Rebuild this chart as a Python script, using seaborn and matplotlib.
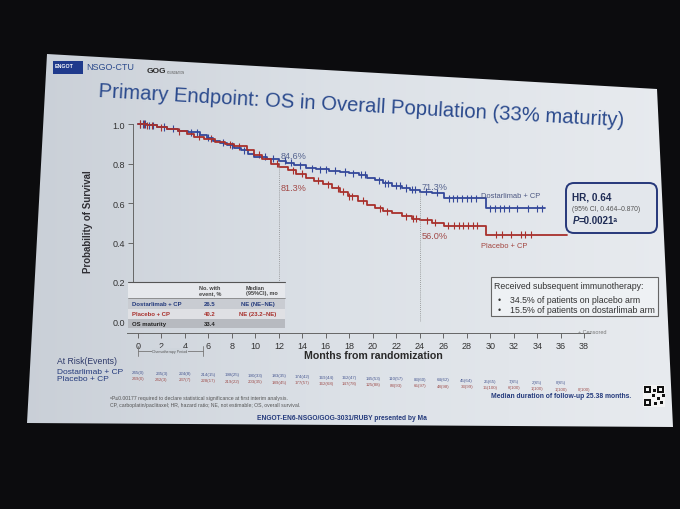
import numpy as np
import pandas as pd
import matplotlib
matplotlib.use("Agg")
import matplotlib.pyplot as plt
import seaborn as sns
from matplotlib.patches import Polygon, Rectangle, FancyBboxPatch
from matplotlib.colors import LinearSegmentedColormap
from matplotlib.transforms import blended_transform_factory

# Kaplan-Meier step points (months, probability of survival)
dost_t = [0, 0.8, 1.6, 2.5, 3.4, 4.3, 5.3, 5.9, 6.4, 7.0, 7.6, 8.2, 8.8, 9.4, 9.9, 11.0,
          12.0, 12.6, 13.3, 14.3, 15.2, 16.3, 17.2, 18.0, 18.8, 19.5, 20.2, 20.9, 21.6,
          22.5, 23.2, 24.0, 25.0, 26.1, 29.6, 34.7]
dost_s = [1.0, 0.993, 0.985, 0.976, 0.967, 0.957, 0.946, 0.93, 0.915, 0.905, 0.893, 0.88,
          0.867, 0.85, 0.835, 0.823, 0.813, 0.803, 0.79, 0.776, 0.77, 0.763, 0.757, 0.75,
          0.742, 0.728, 0.715, 0.70, 0.687, 0.676, 0.667, 0.658, 0.652, 0.625, 0.573, 0.573]
plac_t = [0, 0.8, 1.6, 2.5, 3.4, 4.2, 4.8, 5.6, 6.6, 7.4, 8.2, 9.3, 9.9, 10.6, 11.3, 12.0,
          12.8, 13.5, 14.3, 15.0, 15.8, 16.5, 17.2, 17.9, 18.7, 19.5, 20.2, 20.9, 21.6,
          22.5, 23.3, 24.0, 25.0, 26.1, 29.6, 36.5]
plac_s = [1.0, 0.993, 0.984, 0.974, 0.963, 0.95, 0.936, 0.925, 0.907, 0.898, 0.888, 0.87,
          0.845, 0.825, 0.80, 0.783, 0.765, 0.748, 0.728, 0.712, 0.695, 0.675, 0.656, 0.635,
          0.612, 0.59, 0.573, 0.558, 0.547, 0.532, 0.52, 0.513, 0.50, 0.485, 0.44, 0.44]

# censoring times
dost_cens = [0.2, 0.4, 0.6, 0.9, 1.3, 2.2, 3.0, 4.5, 5.0, 6.0, 7.2, 8.0, 9.0, 10.8, 11.5,
             12.5, 13.0, 13.8, 14.8, 15.5, 16.0, 16.8, 17.6, 18.3, 19.0, 19.3, 20.5, 21.0,
             21.3, 22.0, 22.3, 22.8, 23.3, 23.6, 24.5, 25.5, 26.5, 26.8, 27.2, 27.6, 28.0,
             28.4, 28.8, 30.0, 30.4, 30.8, 31.2, 31.6, 32.3, 33.2, 34.0, 34.4]
plac_cens = [0.2, 0.5, 0.8, 1.2, 2.0, 3.5, 5.2, 6.2, 7.8, 8.6, 10.3, 11.8, 13.2, 14.0, 15.3,
             16.2, 17.0, 17.5, 18.0, 18.2, 19.2, 20.6, 21.2, 22.8, 23.4, 23.7, 24.6, 25.3,
             26.4, 26.9, 27.3, 27.7, 28.1, 28.5, 28.9, 30.5, 31.0, 31.8, 32.6, 33.0, 33.5]

landmarks = [12, 24]
dost_pct = [84.6, 71.3]
plac_pct = [81.3, 56.0]

risk_months = list(range(0, 39, 2))
dost_risk = ["245(0)", "235(3)", "224(8)", "214(15)", "198(25)", "190(33)", "183(35)",
             "174(42)", "169(44)", "162(47)", "145(53)", "110(57)", "83(60)", "64(62)",
             "45(64)", "25(65)", "7(65)", "2(65)", "0(65)"]
plac_risk = ["249(0)", "242(3)", "237(7)", "228(17)", "219(22)", "203(35)", "189(45)",
             "177(57)", "162(68)", "147(78)", "125(88)", "88(93)", "65(97)", "48(98)",
             "33(99)", "15(100)", "6(100)", "1(100)", "1(100)", "0(100)"]

table_rows = ["Dostarlimab + CP", "Placebo + CP", "OS maturity"]
table_events = ["26.5", "40.2", "33.4"]
table_median = ["NE (NE–NE)", "NE (23.2–NE)", ""]

BLUE = "#34489a"
RED = "#a8302c"
NAVY = "#243a7c"

sns.set_style("ticks")
plt.rcParams["font.family"] = ["Liberation Sans", "DejaVu Sans"]

W, H = 680, 510
X0, PX = 138.0, 11.74    # pixel of month 0, pixels per month
Y0, PY = 322.5, 197.5    # pixel of survival 0, pixels per unit

fig = plt.figure(figsize=(6.8, 5.1), dpi=100, facecolor="#0c0c0e")

# slide background
bg = fig.add_axes([0, 0, 1, 1], zorder=0)
slide = Polygon([(47, 55), (657, 90), (673, 428), (27, 424)], closed=True,
                transform=bg.transData)
cmap = LinearSegmentedColormap.from_list("slide", ["#c8ced6", "#dce1e7", "#e8ebef"])
im = bg.imshow(np.tile(np.linspace(0, 1, 200), (20, 1)), cmap=cmap,
               extent=[0, W, H, 0], aspect="auto", interpolation="bilinear")
im.set_clip_path(slide)
bg.set_xlim(0, W)
bg.set_ylim(H, 0)
bg.axis("off")

# KM axes
left_px, right_px, top_px = 126.8, 590.0, 121.0
ax = fig.add_axes([left_px / W, 1 - Y0 / H, (right_px - left_px) / W, (Y0 - top_px) / H],
                  zorder=2)
ax.patch.set_visible(False)

km = pd.concat([
    pd.DataFrame({"month": dost_t, "surv": dost_s, "arm": "Dostarlimab + CP"}),
    pd.DataFrame({"month": plac_t, "surv": plac_s, "arm": "Placebo + CP"}),
])
pal = {"Dostarlimab + CP": BLUE, "Placebo + CP": RED}
sns.lineplot(data=km, x="month", y="surv", hue="arm", palette=pal, drawstyle="steps-post",
             estimator=None, linewidth=1.3, legend=False, ax=ax)


def step_at(t, s, x):
    idx = np.searchsorted(t, x, side="right") - 1
    return np.asarray(s)[idx]


cens = pd.concat([
    pd.DataFrame({"month": dost_cens, "surv": step_at(dost_t, dost_s, dost_cens),
                  "arm": "Dostarlimab + CP"}),
    pd.DataFrame({"month": plac_cens, "surv": step_at(plac_t, plac_s, plac_cens),
                  "arm": "Placebo + CP"}),
])
sns.scatterplot(data=cens, x="month", y="surv", hue="arm", palette=pal, marker="|",
                s=26, linewidth=0.8, legend=False, ax=ax)

# landmark lines + labels
ax.vlines(landmarks, 0, step_at(dost_t, dost_s, landmarks), colors="#888",
          linestyles=(0, (1, 1.5)), linewidth=0.6)
lab_y_dost = [0.84, 0.683]
lab_y_plac = [0.676, 0.434]
for m, pd_, pp, yd, yp in zip(landmarks, dost_pct, plac_pct, lab_y_dost, lab_y_plac):
    ax.text(m + 0.15, yd, f"{pd_:.1f}%", color="#56648f", fontsize=6.6, va="center")
    ax.text(m + 0.15, yp, f"{pp:.1f}%", color="#a24a48", fontsize=6.6, va="center")
ax.text(29.2, 0.637, "Dostarlimab + CP", color="#4c5782", fontsize=5.4, va="center")
ax.text(29.2, 0.387, "Placebo + CP", color="#a2443e", fontsize=5.4, va="center")

ax.set_xlim((left_px - X0) / PX, (right_px - X0) / PX)
ax.set_ylim(0, (Y0 - top_px) / PY)
ax.set_xticks(risk_months)
ax.set_yticks([0, 0.2, 0.4, 0.6, 0.8, 1.0])
ax.set_yticklabels(["0.0", "0.2", "0.4", "0.6", "0.8", "1.0"])
sns.despine(ax=ax)
ax.spines["left"].set_position(("data", -0.45))
ax.spines["left"].set_bounds(0, 1)
ax.spines["bottom"].set_position(("outward", 8.5))
for sp in ("left", "bottom"):
    ax.spines[sp].set_color("#666")
    ax.spines[sp].set_linewidth(0.7)
ax.tick_params(axis="both", length=3.5, width=0.7, color="#666", labelsize=6.5,
               labelcolor="#333", pad=2)
ax.set_xlabel("")
ax.set_ylabel("Probability of Survival", fontsize=7, fontweight="bold", color="#2f2f35")
ax.yaxis.set_label_coords((92.7 - left_px) / (right_px - left_px), 0.5)

# overlay in pixel coordinates
ov = fig.add_axes([0, 0, 1, 1], zorder=3)
ov.set_xlim(0, W)
ov.set_ylim(H, 0)
ov.axis("off")
ov.patch.set_visible(False)


def txt(x, y, s, size, color="#333", weight="normal", ha="left", va="center", **kw):
    return ov.text(x, y, s, fontsize=size, color=color, fontweight=weight, ha=ha, va=va, **kw)


# logos
ov.add_patch(Rectangle((52.7, 61.7), 30, 13.3, facecolor="#1f3a8c", edgecolor="none"))
txt(54.5, 66, "ENGOT", 3.8, "white", "bold")
txt(86, 68, "NSGO-CTU", 6.5, "#2c4a8c")
txt(147, 71.5, "GOG", 6, "#2a2a2a", "bold")
txt(166.7, 72.5, "FOUNDATION", 2, "#555")

# title
txt(98, 97, "Primary Endpoint: OS in Overall Population (33% maturity)", 14.6, "#2b4a8d",
    va="baseline", rotation=-3.2, rotation_mode="anchor")

# summary table
tx0, tx1 = 127.7, 285.0
row_edges = [283, 299, 309.5, 319.5, 329]
row_cols = ["#e6e8ec", "#c9ccd2", "#dfe0e4", "#b7bac0"]
for (ya, yb), c in zip(zip(row_edges[:-1], row_edges[1:]), row_cols):
    ov.add_patch(Rectangle((tx0, ya), tx1 - tx0, yb - ya, facecolor=c, edgecolor="none"))
ov.plot([tx0, tx1], [283, 283], color="#555", lw=0.8)
ov.plot([tx0, tx1], [299, 299], color="#777", lw=0.5)
txt(210, 291, "No. with\nevent, %", 4, "#444", "bold", ha="center", linespacing=1.1)
txt(246, 291, "Median\n(95%CI), mo", 4, "#444", "bold", linespacing=1.1)
row_text_cols = [NAVY, RED, "#222"]
for i, (name, ev, med) in enumerate(zip(table_rows, table_events, table_median)):
    yc = (row_edges[i + 1] + row_edges[i + 2]) / 2
    col = row_text_cols[i]
    txt(132, yc, name, 4.3, col, "bold")
    txt(210, yc, ev, 4.3, col, "bold", ha="center")
    if med:
        txt(258, yc, med, 4.3, col, "bold", ha="center")

# HR box
ov.add_patch(FancyBboxPatch((566, 184), 91, 50, boxstyle="round,pad=0,rounding_size=8",
                            facecolor="#e3e7ec", edgecolor="#26387a", linewidth=1.4))
txt(572.5, 198, "HR, 0.64", 7.2, "#1f2c55", "bold")
txt(572.5, 210, "(95% CI, 0.464–0.870)", 4.9, "#555")
txt(573, 221, "P", 7, "#1f2c55", "bold", style="italic")
txt(578.5, 221, "=0.0021ᵃ", 7, "#1f2c55", "bold")

# subsequent immunotherapy box
ov.add_patch(Rectangle((490.7, 278), 167.3, 38.7, facecolor="#eef1f4", edgecolor="#666",
                       linewidth=0.8))
txt(494.5, 287, "Received subsequent immunotherapy:", 6.3, "#333")
txt(498, 300.5, "•", 6.3, "#333")
txt(510, 300.5, "34.5% of patients on placebo arm", 6.3, "#333")
txt(498, 310.5, "•", 6.3, "#333")
txt(510, 310.5, "15.5% of patients on dostarlimab arm", 6.3, "#333")

txt(578, 333, "+ Censored", 4, "#777")

# chemotherapy period bracket
ov.plot([137.7, 137.7], [346.5, 357], color="#777", lw=0.6)
ov.plot([202.7, 202.7], [346.5, 357], color="#777", lw=0.6)
ov.plot([137.7, 202.7], [351.7, 351.7], color="#777", lw=0.6)
txt(170, 351.7, "Chemotherapy Period", 2.6, "#555", ha="center",
    bbox=dict(facecolor="#cfd5dc", edgecolor="none", pad=0.6))

txt(373, 356, "Months from randomization", 7.6, "#2a2a2a", "bold", ha="center")

# numbers at risk
txt(56.7, 361.7, "At Risk(Events)", 6.2, "#2f3a6a")
txt(56.7, 372.2, "Dostarlimab + CP", 6.0, NAVY)
txt(56.7, 379.8, "Placebo + CP", 6.0, NAVY)
rt = blended_transform_factory(ax.transData, ov.transData)
for m, v in zip(risk_months, dost_risk):
    ov.text(m, 373.0 + 0.285 * m, v, transform=rt, fontsize=3.2, color="#4a5a92",
            ha="center", va="center")
for m, v in zip(risk_months, plac_risk):
    ov.text(m, 379.3 + 0.285 * m, v, transform=rt, fontsize=3.2, color="#a0504e",
            ha="center", va="center")

# footnotes
txt(110, 398.3, "ᵃP≤0.00177 required to declare statistical significance at first interim analysis.",
    3.7, "#555")
txt(110, 405.7, "CP, carboplatin/paclitaxel; HR, hazard ratio; NE, not estimable; OS, overall survival.",
    3.7, "#555")
txt(490.7, 397, "Median duration of follow-up 25.38 months.", 4.9, NAVY, "bold")
txt(256.7, 418.3, "ENGOT-EN6-NSGO/GOG-3031/RUBY presented by Ma", 4.8, NAVY, "bold")

# QR code block
ov.add_patch(Rectangle((643, 386), 22, 22, facecolor="#f4f4f4", edgecolor="none"))
for qx, qy in [(644, 387), (657, 387), (644, 400)]:
    ov.add_patch(Rectangle((qx, qy), 7, 7, facecolor="#111", edgecolor="none"))
    ov.add_patch(Rectangle((qx + 2, qy + 2), 3, 3, facecolor="#f4f4f4", edgecolor="none"))
for qx, qy in [(653, 390), (652, 395), (657, 398), (660, 402), (654, 403), (662, 395)]:
    ov.add_patch(Rectangle((qx, qy), 2.5, 2.5, facecolor="#111", edgecolor="none"))

fig.savefig("out.png", dpi=100, facecolor=fig.get_facecolor())
